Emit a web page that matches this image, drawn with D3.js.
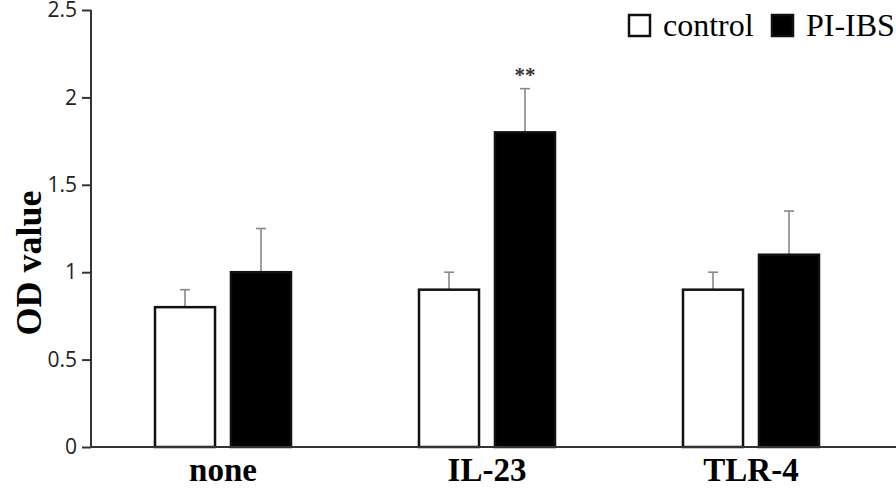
<!DOCTYPE html>
<html lang="en">
<head>
<meta charset="UTF-8">
<title>OD value</title>
<style>
    body { margin: 0; padding: 0; background: #fff; }
    svg { display: block; }
    .tick text { font-family: "Open Sans", "Liberation Sans", sans-serif; font-size: 21px; fill: #222; }
</style>
</head>
<body>
<div id="chart"></div>
<script src="https://d3js.org/d3.v7.min.js"></script>
<script>
    // values
    const groups = ["none", "IL-23", "TLR-4"];
    const series = ["control", "PI-IBS"];
    const controlMean = [0.8, 0.9, 0.9];
    const controlErr = [0.1, 0.1, 0.1];
    const ibsMean = [1.0, 1.8, 1.1];
    const ibsErr = [0.25, 0.25, 0.25];
    const yTicks = [0, 0.5, 1, 1.5, 2, 2.5];

    const W = 896, H = 488;
    const svg = d3.select("#chart").append("svg").attr("width", W).attr("height", H);

    const x = d3.scaleBand().domain(groups).range([91, 883]);
    const xs = d3.scaleBand().domain(series).range([0, 136]).paddingInner(0.21);
    const y = d3.scaleLinear().domain([0, 2.5]).range([447, 10]);

    const rows = [];
    groups.forEach((g, i) => {
        rows.push({ g: g, s: "control", v: controlMean[i], e: controlErr[i] });
        rows.push({ g: g, s: "PI-IBS", v: ibsMean[i], e: ibsErr[i] });
    });
    const barX = d => x(d.g) + (x.bandwidth() - 136) / 2 + xs(d.s);

    // error bars (upper only)
    const eb = svg.append("g").attr("stroke", "#888").attr("stroke-width", 1.6);
    eb.selectAll("line.v").data(rows).enter().append("line")
        .attr("x1", d => barX(d) + xs.bandwidth() / 2)
        .attr("x2", d => barX(d) + xs.bandwidth() / 2)
        .attr("y1", d => y(d.v))
        .attr("y2", d => y(d.v + d.e));
    eb.selectAll("line.c").data(rows).enter().append("line")
        .attr("x1", d => barX(d) + xs.bandwidth() / 2 - 5)
        .attr("x2", d => barX(d) + xs.bandwidth() / 2 + 5)
        .attr("y1", d => y(d.v + d.e))
        .attr("y2", d => y(d.v + d.e));

    // bars
    svg.append("g").selectAll("rect").data(rows).enter().append("rect")
        .attr("x", d => barX(d))
        .attr("y", d => y(d.v))
        .attr("width", xs.bandwidth())
        .attr("height", d => y(0) - y(d.v))
        .attr("fill", d => d.s === "control" ? "#fff" : "#000")
        .attr("stroke", "#111")
        .attr("stroke-width", 2.5);

    // significance mark
    svg.append("text")
        .attr("x", barX(rows[3]) + xs.bandwidth() / 2)
        .attr("y", y(ibsMean[1] + ibsErr[1]) - 7)
        .attr("text-anchor", "middle")
        .attr("font-family", "Liberation Serif, serif")
        .attr("font-size", 21)
        .attr("font-weight", "bold")
        .attr("fill", "#333")
        .text("**");

    // y axis
    const yAxis = svg.append("g").attr("transform", "translate(91,0)")
        .call(d3.axisLeft(y).tickValues(yTicks).tickSize(9).tickPadding(5).tickFormat(d3.format("")));
    yAxis.selectAll("line, path").attr("stroke", "#333").attr("stroke-width", 2);
    yAxis.select("path").attr("d", "M0,10V447");

    // x axis line
    svg.append("line").attr("x1", 91).attr("x2", W).attr("y1", 447).attr("y2", 447)
        .attr("stroke", "#333").attr("stroke-width", 2);

    // x labels
    svg.append("g").selectAll("text").data(groups).enter().append("text")
        .attr("x", d => x(d) + x.bandwidth() / 2)
        .attr("y", 481)
        .attr("text-anchor", "middle")
        .attr("font-family", "Liberation Serif, serif")
        .attr("font-weight", "bold")
        .attr("font-size", 33)
        .text(d => d);

    // y title
    svg.append("text")
        .attr("transform", "translate(41,263) rotate(-90)")
        .attr("text-anchor", "middle")
        .attr("font-family", "Liberation Serif, serif")
        .attr("font-weight", "bold")
        .attr("font-size", 36)
        .text("OD value");

    // legend
    const leg = svg.append("g");
    const legX = [629, 772];
    series.forEach((s, i) => {
        leg.append("rect").attr("x", legX[i]).attr("y", 15).attr("width", 21).attr("height", 21)
            .attr("fill", i === 0 ? "#fff" : "#000").attr("stroke", "#111").attr("stroke-width", 2.5);
        leg.append("text").attr("x", legX[i] + 34).attr("y", 36)
            .attr("font-family", "Liberation Serif, serif").attr("font-size", 32)
            .text(s);
    });
</script>
</body>
</html>
